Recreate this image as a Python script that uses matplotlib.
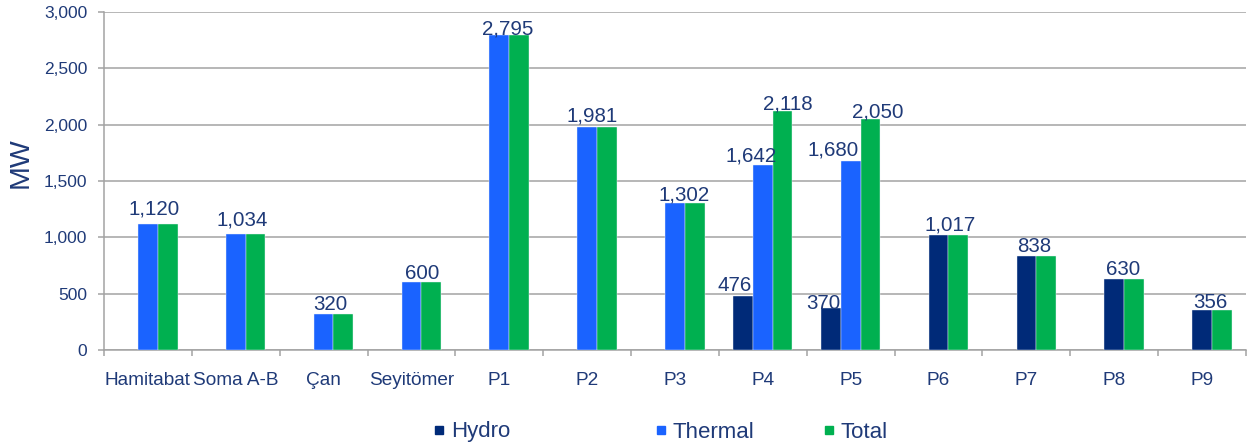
import numpy as np
import matplotlib
matplotlib.use('Agg')
import matplotlib.pyplot as plt
from matplotlib.lines import Line2D

# ---- data ----
categories = ['Hamitabat', 'Soma A-B', 'Çan', 'Seyitömer', 'P1', 'P2', 'P3',
              'P4', 'P5', 'P6', 'P7', 'P8', 'P9']
hydro = [np.nan, np.nan, np.nan, np.nan, np.nan, np.nan, np.nan,
         476, 370, 1017, 838, 630, 356]
thermal = [1120, 1034, 320, 600, 2795, 1981, 1302, 1642, 1680,
           np.nan, np.nan, np.nan, np.nan]
total = [1120, 1034, 320, 600, 2795, 1981, 1302, 2118, 2050,
         1017, 838, 630, 356]
yticks = [0, 500, 1000, 1500, 2000, 2500, 3000]
series_names = ['Hydro', 'Thermal', 'Total']

# ---- style ----
C_HYDRO = '#002A78'
C_TH = '#1A63FF'
C_TOT = '#00B050'
TXT = '#1F3A78'
GRID = '#A3A3A3'

plt.rcParams['font.family'] = ['Liberation Sans', 'DejaVu Sans']

W, H = 1251, 446
fig = plt.figure(figsize=(W / 100, H / 100), dpi=100)
ax = fig.add_axes([104 / W, 1 - 350 / H, (1246 - 104) / W, (350 - 12) / H])

n = len(categories)
x = np.arange(n) + 0.5
w = 0.225
h = np.array(hydro, float)
t = np.array(thermal, float)
tot = np.array(total, float)
has_t = ~np.isnan(t)
has_h = ~np.isnan(h)
xh = np.where(has_t, x - w, x)

ax.bar(xh[has_h], h[has_h], w, color=C_HYDRO, zorder=3, edgecolor='#EEF2FA', linewidth=0.3)
ax.bar(x[has_t], t[has_t], w, color=C_TH, zorder=3, edgecolor='#EEF2FA', linewidth=0.3)
ax.bar(x + w, tot, w, color=C_TOT, zorder=3, edgecolor='#EEF2FA', linewidth=0.3)

# ---- data labels (offsets in pixels are layout only) ----
pair_dx = [-3.3, -3.5, -2.8, 1.3, -2, -4.6, -1, None, None, 1.5, -2, -1.4, -1.3]
pair_gap = [9, 8, 3.6, 3.3, 1, 5.7, 3, None, None, 5, 3.3, 4, 2.3]
triple_off = {7: [(-8, 5.7), (-11.5, 4), (5, 1.7)],
              8: [(-8, -1), (-18, 5), (7, 2)]}

def lab(xp, v, dx, dy):
    ax.annotate(f'{v:,.0f}', xy=(xp, v), xytext=(dx, dy), textcoords='offset pixels',
                ha='center', va='baseline', fontsize=14.8, color=TXT, zorder=5)

for i in range(n):
    if i in triple_off:
        offs = triple_off[i]
        lab(xh[i], h[i], *offs[0])
        lab(x[i], t[i], *offs[1])
        lab(x[i] + w, tot[i], *offs[2])
    else:
        lab(x[i] + w / 2, tot[i], pair_dx[i], pair_gap[i])

# ---- axes ----
ax.set_xlim(0, n)
ax.set_ylim(0, 3000)
ax.set_yticks(yticks)
ax.set_yticklabels([f'{v:,}' for v in yticks])
ax.yaxis.grid(True, color=GRID, linewidth=1.1, zorder=0)
ax.set_axisbelow(True)
for s in ['top', 'right']:
    ax.spines[s].set_visible(False)
for s in ['left', 'bottom']:
    ax.spines[s].set_color(GRID)
    ax.spines[s].set_linewidth(1.1)

ax.set_xticks(np.arange(n + 1))
ax.set_xticklabels([])
ax.set_xticks(x, minor=True)
ax.set_xticklabels(categories, minor=True)
ax.tick_params(axis='x', which='major', length=4, width=1.1, color=GRID, direction='out')
ax.tick_params(axis='x', which='minor', length=0, pad=16, labelsize=13.7, labelcolor=TXT)
ax.tick_params(axis='y', length=4, width=1.1, color=GRID, direction='out', pad=8,
               labelsize=12.5, labelcolor=TXT)

fig.text(21 / W, 1 - 163 / H, 'MW', rotation=90, ha='center', va='center',
         fontsize=20.5, color=TXT)

# ---- legend ----
colors = [C_HYDRO, C_TH, C_TOT]
leg_x = [433, 655, 823]
for name, c, lx in zip(series_names, colors, leg_x):
    hd = Line2D([], [], marker='s', linestyle='none', markersize=5.5, color=c)
    fig.legend(handles=[hd], labels=[name], loc='center left',
               bbox_to_anchor=(lx / W, 1 - 432 / H), frameon=False,
               borderpad=0, borderaxespad=0, handlelength=0.5,
               handletextpad=0.3, fontsize=16, labelcolor=TXT)

fig.savefig('out.png', dpi=100)
